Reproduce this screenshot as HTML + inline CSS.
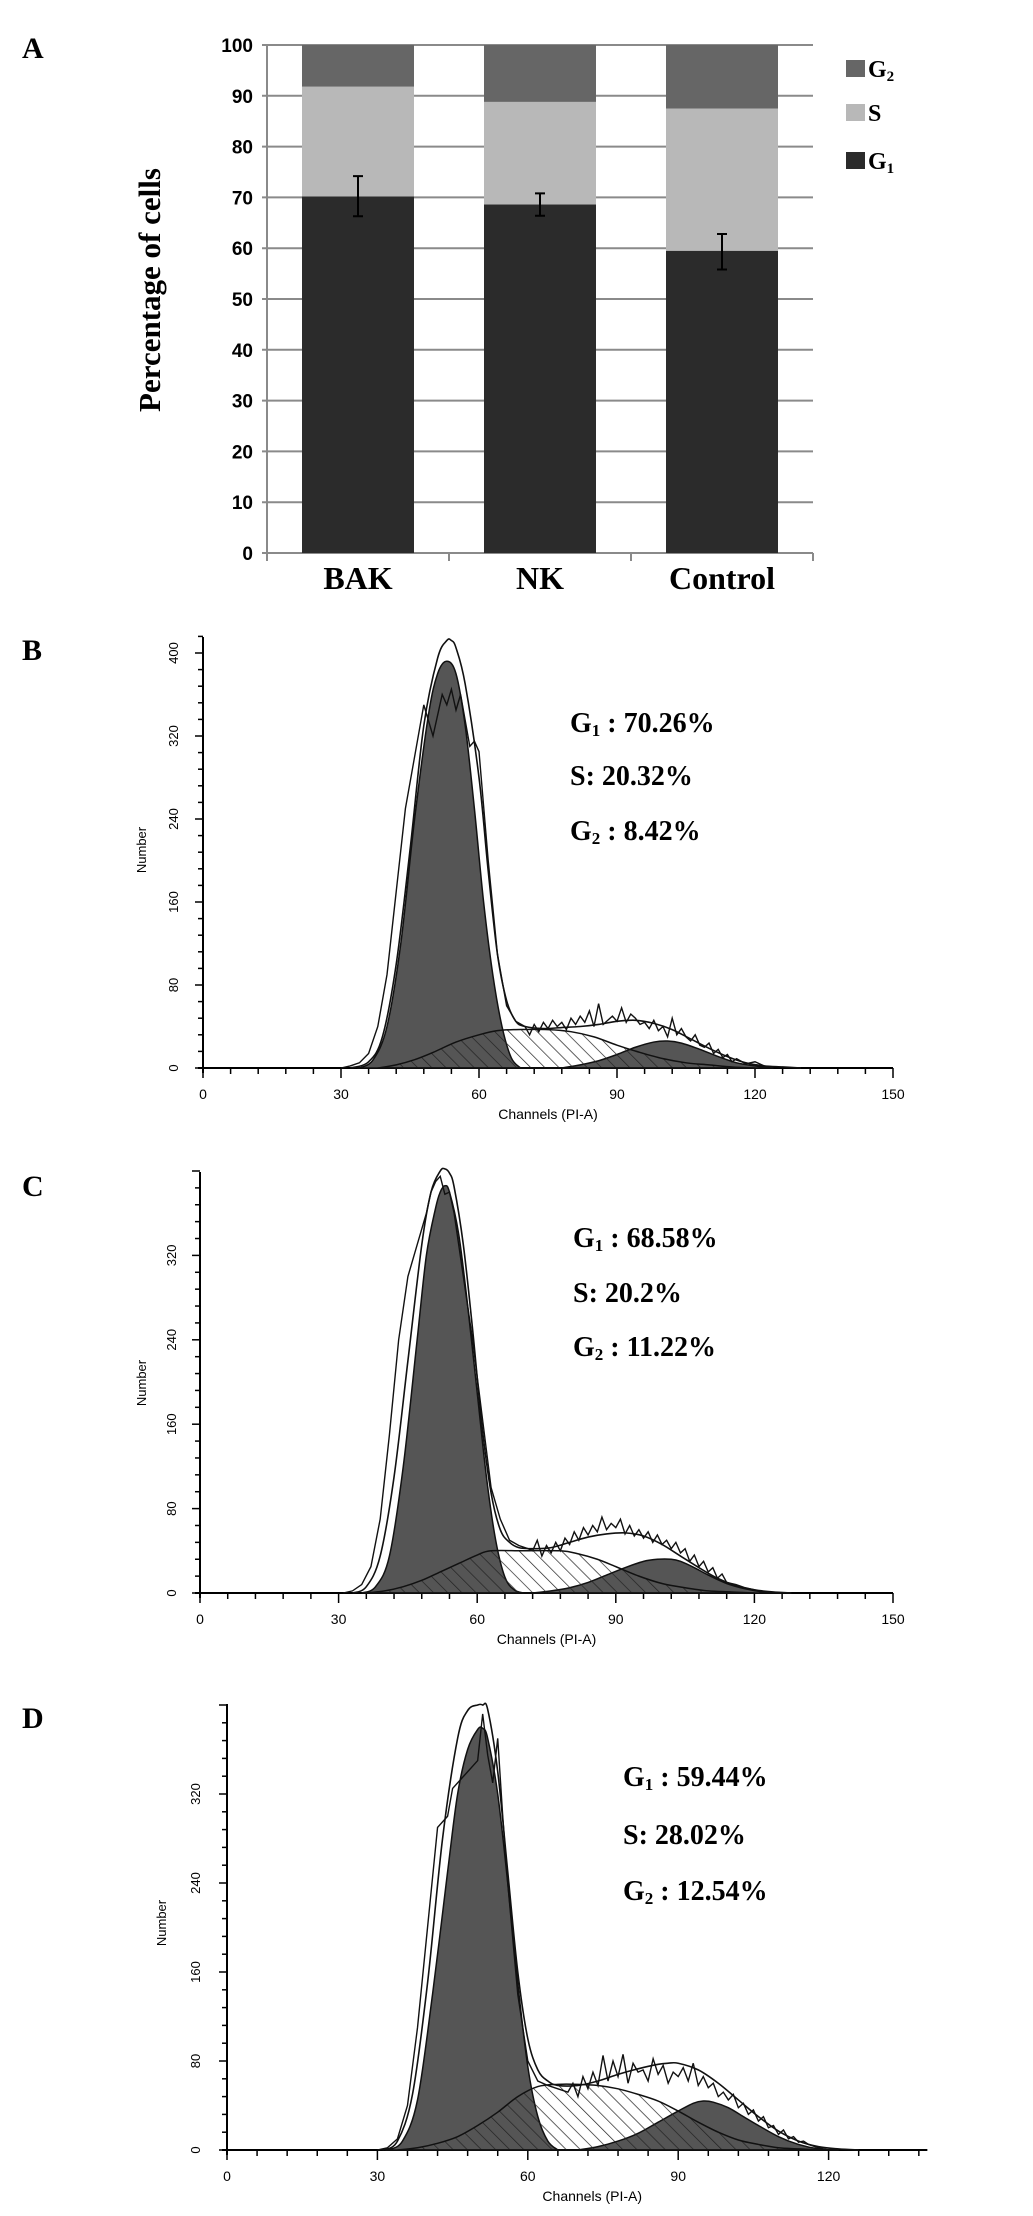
<!DOCTYPE html>
<html><head><meta charset="utf-8"><style>
html,body{margin:0;padding:0;background:#fff}
svg{display:block}
.serif{font-family:"Liberation Serif",serif;font-weight:bold}
.sans{font-family:"Liberation Sans",sans-serif}
</style></head><body>
<svg id="fig" width="1033" height="2216" viewBox="0 0 1033 2216" xmlns="http://www.w3.org/2000/svg">
<defs>
<pattern id="hatch" patternUnits="userSpaceOnUse" width="10" height="10" patternTransform="rotate(-45)">
<line x1="0" y1="0" x2="0" y2="10" stroke="#222" stroke-width="1.4"/>
</pattern>
</defs>
<g id="panelA"></g>
<g id="panelB"></g>
<g id="panelC"></g>
<g id="panelD"></g>
</svg>
<script>
// ---------- Panel A data ----------
const categories = ["BAK","NK","Control"];
const g1Vals = [70.2, 68.6, 59.5];
const sVals = [21.6, 20.2, 28.0];
const g2Vals = [8.2, 11.2, 12.5];
const errLow = [66.3, 66.4, 55.8];
const errHigh = [74.2, 70.8, 62.8];
const yTicksA = [0,10,20,30,40,50,60,70,80,90,100];

// ---------- Panel B data ----------
const bG1X = [34,37,40,43,46,49,51,53,55,57,59,61,63,65,67,69];
const bG1Y = [0,8,40,120,240,340,380,392,380,330,250,160,90,40,10,0];
const bSX = [38,42,46,50,55,60,64,68,75,80,85,90,95,100,105,110,115,120];
const bSY = [0,3,8,15,25,32,36,37,37,35,30,22,15,9,5,3,1,0];
const bG2X = [78,82,86,90,94,98,101,104,108,112,116,120,124];
const bG2Y = [0,3,7,13,20,25,26,24,18,11,5,2,0];
const bFitX = [32,36,39,42,45,48,51,53,54,55,57,60,62,64,66,68,70,74,78,82,86,90,94,98,102,106,110,114,118,122,126,130];
const bFitY = [0,6,30,100,210,330,395,412,412,405,370,280,190,110,65,45,40,38,39,40,42,45,46,43,37,28,19,11,5,2,1,0];
const bRawX = [30,32,34,36,38,40,42,44,46,48,50,52,53,54,55,56,58,59,60,62,64,66,68,70,71,72,73,74,75,76,77,78,79,80,81,82,83,84,85,86,87,88,89,90,91,92,93,94,95,96,97,98,99,100,101,102,103,104,105,106,107,108,109,110,111,112,113,114,115,116,118,120,122,124];
const bRawY = [0,2,5,14,40,90,170,250,300,350,320,360,350,365,345,360,310,315,305,200,110,60,45,40,32,42,35,44,38,46,40,44,37,48,42,50,44,55,40,62,42,46,50,45,58,44,52,48,42,44,38,46,36,40,30,48,32,38,30,26,32,22,20,24,14,18,10,13,6,9,4,6,2,0];

// ---------- Panel C data ----------
const cG1X = [35,38,41,44,47,49,51,52,53,54,56,58,60,62,64,66,68,70];
const cG1Y = [0,6,35,120,240,320,365,380,386,380,340,270,190,110,50,15,3,0];
const cSX = [36,40,44,48,52,56,60,63,70,78,82,86,90,95,100,105,110,115,120];
const cSY = [0,2,6,12,20,28,36,40,40,40,37,32,25,16,9,5,2,1,0];
const cG2X = [72,76,80,84,88,92,96,99,102,104,107,110,114,118,122,126];
const cG2Y = [0,2,5,10,17,24,30,32,32,30,24,17,9,4,1,0];
const cFitX = [33,36,39,42,45,48,50,52,53,54,55,57,59,61,63,65,67,69,72,76,80,84,88,92,96,100,104,108,112,116,120,124,128];
const cFitY = [0,6,35,110,220,330,380,400,402,398,385,330,250,160,95,60,48,43,42,43,48,53,56,57,54,46,35,24,14,7,3,1,0];
const cRawX = [31,33,35,37,39,41,43,45,47,49,50,51,52,53,54,55,57,59,61,63,65,67,69,71,72,73,74,75,76,77,78,79,80,81,82,83,84,85,86,87,88,89,90,91,92,93,94,95,96,97,98,99,100,101,102,103,104,105,106,107,108,109,110,111,112,113,114,116,118,120,122];
const cRawY = [0,2,8,25,70,150,240,300,330,360,380,390,395,378,380,360,300,240,170,100,70,50,45,42,40,50,35,45,38,48,40,52,46,58,50,62,55,64,58,72,60,66,62,70,56,64,54,60,52,58,48,55,46,50,42,48,38,42,30,36,25,30,20,24,14,18,10,8,5,3,0];

// ---------- Panel D data ----------
const dG1X = [32,35,38,41,44,46,48,50,51,52,54,56,58,60,62,64,66];
const dG1Y = [0,8,45,140,250,320,360,378,379,370,320,240,150,75,30,8,0];
const dSX = [34,38,42,46,50,54,58,62,66,70,74,78,82,86,90,94,98,102,106,110,114,118];
const dSY = [0,2,6,12,22,34,48,57,59,59,58,55,50,44,35,25,16,9,5,2,1,0];
const dG2X = [70,74,78,82,86,90,93,95,97,100,103,106,110,114,118,122];
const dG2Y = [0,3,8,15,25,35,42,44,43,38,30,22,12,5,1,0];
const dFitX = [31,34,37,40,43,46,48,50,51,52,54,56,58,60,62,64,66,70,74,78,82,86,88,90,94,98,102,106,110,114,118,122,126];
const dFitY = [0,8,50,150,280,370,395,400,400,396,340,250,160,100,72,62,58,58,62,68,73,77,78,78,72,60,45,30,17,8,3,1,0];
const dRawX = [30,32,34,36,38,40,42,44,45,46,48,49,50,51,52,53,54,55,56,58,60,62,64,66,68,69,70,71,72,73,74,75,76,77,78,79,80,81,82,83,84,85,86,87,88,89,90,91,92,93,94,95,96,97,98,99,100,101,102,103,104,105,106,107,108,109,110,111,112,113,114,115,116,118,120];
const dRawY = [0,2,10,40,110,200,290,300,325,330,340,345,350,392,355,330,370,300,240,140,80,62,58,55,52,60,48,66,55,70,58,85,62,80,66,86,60,78,70,72,62,82,68,76,60,70,66,74,62,78,58,66,56,60,48,52,45,50,38,42,32,36,26,30,20,22,14,18,10,12,7,8,5,2,0];

const NS = "http://www.w3.org/2000/svg";
function mk(parent, tag, attrs){
  const e = document.createElementNS(NS, tag);
  for (const k in attrs) e.setAttribute(k, attrs[k]);
  parent.appendChild(e);
  return e;
}
function txt(parent, x, y, s, cls, size, anchor){
  const t = mk(parent, "text", {x:x, y:y, "font-size":size, "text-anchor":anchor||"start", "class":cls});
  t.textContent = s;
  return t;
}

// ---------- Panel A ----------
(function(){
  const g = document.getElementById("panelA");
  const x0 = 267, x1 = 813, yTop = 45, yBot = 553;
  const ya = v => yBot - (yBot - yTop) * v / 100;
  const band = (x1 - x0) / categories.length;
  const bw = 112;
  const bx = i => x0 + band * i + (band - bw) / 2;
  const l = txt(g, 22, 58, "A", "serif", 30);
  
  
  yTicksA.forEach(v => {
    const ln = mk(g, "line", {x1:x0-5, x2:x1, y1:ya(v), y2:ya(v), stroke:"#8a8a8a", "stroke-width":2});
    
    
    const t = txt(g, 253, ya(v)+7, String(v), "sans", 19, "end");
    t.setAttribute("font-weight", "bold");
    
    
  });
  const ax = mk(g, "line", {x1:x0, x2:x0, y1:yTop, y2:yBot+6, stroke:"#8a8a8a", "stroke-width":2});
  
  
  for (let i = 0; i <= categories.length; i++) {
    const tk = mk(g, "line", {x1:x0+band*i, x2:x0+band*i, y1:yBot, y2:yBot+8, stroke:"#8a8a8a", "stroke-width":2});
    
    
  }
  categories.forEach((c, i) => {
    const x = bx(i);
    const r1 = mk(g, "rect", {x:x, y:ya(g1Vals[i]), width:bw, height:ya(0)-ya(g1Vals[i]), fill:"#2b2b2b"});
    
    
    const s0 = g1Vals[i], s1 = g1Vals[i] + sVals[i];
    const r2 = mk(g, "rect", {x:x, y:ya(s1), width:bw, height:ya(s0)-ya(s1), fill:"#b8b8b8"});
    
    
    const t1 = s1 + g2Vals[i];
    const r3 = mk(g, "rect", {x:x, y:ya(t1), width:bw, height:ya(s1)-ya(t1), fill:"#666"});
    
    
    const cx = x + bw/2;
    const eb = mk(g, "path", {d:`M${cx-5},${ya(errHigh[i])}H${cx+5}M${cx},${ya(errHigh[i])}V${ya(errLow[i])}M${cx-5},${ya(errLow[i])}H${cx+5}`, stroke:"#000", "stroke-width":2, fill:"none"});
    
    
    const lb = txt(g, cx, 589, c, "serif", 32, "middle");
    
    
  });
  const yt = txt(g, 0, 0, "Percentage of cells", "serif", 31, "middle");
  yt.setAttribute("transform", "translate(160,290) rotate(-90)");
  
  
  const legend = [["G","2","#666",68],["S","","#b8b8b8",112],["G","1","#2b2b2b",160]];
  legend.forEach(L => {
    const sq = mk(g, "rect", {x:846, y:L[3]-8, width:19, height:17, fill:L[2]});
    
    
    const t = txt(g, 868, L[3]+9, L[0], "serif", 24);
    if (L[1]) { const ts = mk(t, "tspan", {"font-size":15, dy:4}); ts.textContent = L[1]; }
    
    
  });
})();

// ---------- Histogram drawer ----------
function smoothPath(pts){
  let d = `M${pts[0][0]},${pts[0][1]}`;
  for (let i = 0; i < pts.length-1; i++) {
    const p0 = pts[Math.max(0,i-1)], p1 = pts[i], p2 = pts[i+1], p3 = pts[Math.min(pts.length-1,i+2)];
    const c1x = p1[0] + (p2[0]-p0[0])/6, c1y = p1[1] + (p2[1]-p0[1])/6;
    const c2x = p2[0] - (p3[0]-p1[0])/6, c2y = p2[1] - (p3[1]-p1[1])/6;
    d += `C${c1x},${c1y} ${c2x},${c2y} ${p2[0]},${p2[1]}`;
  }
  return d;
}
function hist(cfg){
  const g = document.getElementById(cfg.id);
  const sx = v => cfg.x0 + (cfg.x150 - cfg.x0) * v / 150;
  const sy = v => cfg.y0 - (cfg.y0 - cfg.y400) * v / 400;
  const pts = (X, Y) => X.map((x, i) => [sx(x), sy(Y[i])]);
  const area = (X, Y) => smoothPath(pts(X, Y)) + `L${sx(X[X.length-1])},${sy(0)}L${sx(X[0])},${sy(0)}Z`;
  const l = txt(g, 22, cfg.letterY, cfg.letter, "serif", 30);
  
  
  const ya = mk(g, "line", {x1:cfg.x0, x2:cfg.x0, y1:cfg.axisTop, y2:sy(0)+5, stroke:"#000", "stroke-width":2});
  
  
  const xa = mk(g, "line", {x1:cfg.x0-5, x2:sx(cfg.xMax), y1:sy(0), y2:sy(0), stroke:"#000", "stroke-width":2});
  
  
  for (let v = 0; v <= cfg.yMaxTick; v += 16) {
    const major = v % 80 === 0;
    const tk = mk(g, "line", {x1:cfg.x0 - (major?8:5), x2:cfg.x0, y1:sy(v), y2:sy(v), stroke:"#000", "stroke-width":1.5});
    
    
    if (major && v <= cfg.yLabelMax) {
      const t = txt(g, 0, 0, String(v), "sans", 13, "middle");
      t.setAttribute("transform", `translate(${cfg.ytx},${sy(v)}) rotate(-90)`);
      
      
    }
  }
  for (let v = 0; v <= cfg.xMax; v += 6) {
    const major = v % 30 === 0;
    const tk = mk(g, "line", {x1:sx(v), x2:sx(v), y1:sy(0), y2:sy(0) + (major?10:6), stroke:"#000", "stroke-width":1.5});
    
    
    if (major) {
      const t = txt(g, sx(v), sy(0)+31, String(v), "sans", 14, "middle");
      
      
    }
  }
  const xt = txt(g, sx(cfg.xMax*0.5+ (cfg.xMax===150?0:3)), sy(0)+51, "Channels (PI-A)", "sans", 14, "middle");
  
  
  const yt = txt(g, 0, 0, "Number", "sans", 13, "middle");
  yt.setAttribute("transform", `translate(${cfg.ntx},${cfg.nty}) rotate(-90)`);
  
  
  const a1 = mk(g, "path", {d:area(cfg.g1X, cfg.g1Y), fill:"#555", stroke:"#111", "stroke-width":1.5});
  
  
  const a2 = mk(g, "path", {d:area(cfg.g2X, cfg.g2Y), fill:"#555", stroke:"#111", "stroke-width":1.5});
  
  
  const a3 = mk(g, "path", {d:area(cfg.sX, cfg.sY), fill:"url(#hatch)", stroke:"#111", "stroke-width":1.5});
  
  
  const fit = mk(g, "path", {d:smoothPath(pts(cfg.fitX, cfg.fitY)), fill:"none", stroke:"#111", "stroke-width":1.6});
  
  
  const raw = mk(g, "polyline", {points:pts(cfg.rawX, cfg.rawY).map(p => p.join(",")).join(" "), fill:"none", stroke:"#111", "stroke-width":1.4});
  
  
  cfg.notes.forEach((n, i) => {
    const t = txt(g, cfg.tx, cfg.ty[i], n[0], "serif", 28);
    if (n[1]) { const s = mk(t, "tspan", {"font-size":17, dy:4}); s.textContent = n[1]; const r = mk(t, "tspan", {dy:-4}); r.textContent = n[2]; }
    
    
  });
}

hist({id:"panelB", letter:"B", letterY:660, x0:203, x150:893, y0:1068, y400:653, axisTop:637, xMax:150, yMaxTick:416, yLabelMax:400, ytx:178, ntx:146, nty:850,
  g1X:bG1X, g1Y:bG1Y, sX:bSX, sY:bSY, g2X:bG2X, g2Y:bG2Y, fitX:bFitX, fitY:bFitY, rawX:bRawX, rawY:bRawY,
  tx:570, ty:[732,785,840], notes:[["G","1"," : 70.26%"],["S: 20.32%"],["G","2"," : 8.42%"]]});
hist({id:"panelC", letter:"C", letterY:1196, x0:200, x150:893, y0:1593, y400:1171, axisTop:1172, xMax:150, yMaxTick:400, yLabelMax:320, ytx:176, ntx:146, nty:1383,
  g1X:cG1X, g1Y:cG1Y, sX:cSX, sY:cSY, g2X:cG2X, g2Y:cG2Y, fitX:cFitX, fitY:cFitY, rawX:cRawX, rawY:cRawY,
  tx:573, ty:[1247,1302,1356], notes:[["G","1"," : 68.58%"],["S: 20.2%"],["G","2"," : 11.22%"]]});
hist({id:"panelD", letter:"D", letterY:1728, x0:227, x150:979, y0:2150, y400:1705, axisTop:1704, xMax:139.7, yMaxTick:400, yLabelMax:320, ytx:200, ntx:166, nty:1923,
  g1X:dG1X, g1Y:dG1Y, sX:dSX, sY:dSY, g2X:dG2X, g2Y:dG2Y, fitX:dFitX, fitY:dFitY, rawX:dRawX, rawY:dRawY,
  tx:623, ty:[1786,1844,1900], notes:[["G","1"," : 59.44%"],["S: 28.02%"],["G","2"," : 12.54%"]]});
</script>
</body></html>
